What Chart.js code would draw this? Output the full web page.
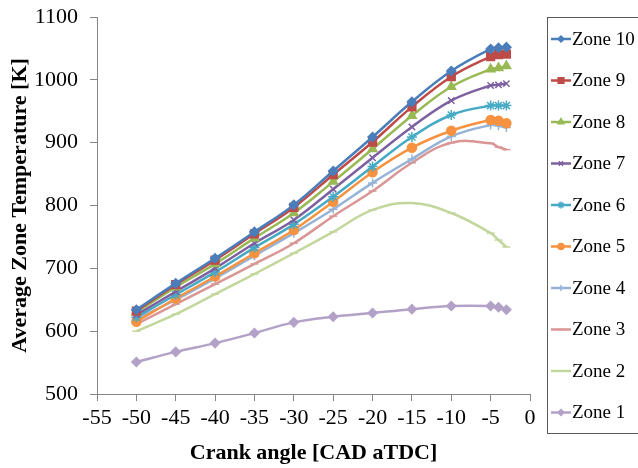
<!DOCTYPE html>
<html>
<head>
<meta charset="utf-8">
<script src="https://cdn.jsdelivr.net/npm/chart.js@4/dist/chart.umd.min.js"></script>
<style>
  html, body { margin: 0; padding: 0; background: #fff; overflow: hidden; }
  #wrap { width: 638px; height: 468px; position: relative; }
</style>
</head>
<body>
<div id="wrap"><canvas id="zoneChart" width="638" height="468"></canvas></div>
<script>
// Crank angles (CAD aTDC)
const angles = [-50, -45, -40, -35, -30, -25, -20, -15, -10, -5, -4, -3];

// Average zone temperatures [K]
const zone10 = [634, 676, 716, 758, 801, 855, 909, 965, 1014, 1049, 1051, 1052];
const zone9 = [632, 674, 713, 755, 797, 849, 901, 957, 1005, 1037, 1040, 1041];
const zone8 = [630, 670, 707, 748, 788, 838, 890, 943, 989, 1017, 1019, 1022];
const zone7 = [626, 663, 700, 740, 777, 826, 876, 925, 967, 991, 992, 994];
const zone6 = [622, 658, 694, 733, 770, 814, 862, 909, 944, 959, 959, 959];
const zone5 = [615, 652, 687, 724, 761, 806, 853, 892, 919, 936, 935, 931];
const zone4 = [619, 650, 684, 720, 756, 794, 836, 874, 910, 928, 927, 924];
const zone3 = [611, 643, 675, 707, 740, 783, 823, 868, 900, 899, 893, 889];
const zone2 = [600, 627, 659, 691, 724, 758, 793, 804, 788, 756, 745, 734];
const zone1 = [551, 567, 581, 597, 614, 623, 629, 635, 640, 640, 638, 634];

const zoneNames = ["Zone 10", "Zone 9", "Zone 8", "Zone 7", "Zone 6", "Zone 5", "Zone 4", "Zone 3", "Zone 2", "Zone 1"];
const zoneValues = [zone10, zone9, zone8, zone7, zone6, zone5, zone4, zone3, zone2, zone1];

// axis ticks
const xMin = -55, xMax = 0, xStep = 5;
const yMin = 500, yMax = 1100, yStep = 100;

// line colour, marker style, marker radius for each zone (same order as zoneNames)
const styles = [
    { color: "#4A7EBB", point: "rectRot", r: 4.5 },
    { color: "#BE4B48", point: "rect", r: 5.5 },
    { color: "#98B954", point: "triangle", r: 5 },
    { color: "#7D60A0", point: "crossRot", r: 4.5 },
    { color: "#46AAC5", point: "star", r: 5 },
    { color: "#F69240", point: "circle", r: 4.5 },
    { color: "#95B3D7", point: "cross", r: 4.5 },
    { color: "#D99694", point: "line", r: 4 },
    { color: "#C3D69B", point: "line", r: 4 },
    { color: "#B3A2C7", point: "rectRot", r: 4.5 }
];

const serif = "'Liberation Serif', 'Times New Roman', serif";
const axisGray = "#868686";

function makeDataset(name, values, st) {
    return {
        label: name,
        data: angles.map((a, i) => ({ x: a, y: values[i] })),
        borderColor: st.color,
        backgroundColor: st.color,
        borderWidth: 2.5,
        tension: 0.4,
        pointStyle: st.point,
        pointRadius: st.r,
        pointBorderWidth: 1.5,
        pointBackgroundColor: st.color,
        pointBorderColor: st.color,
        fill: false
    };
}

// draws the boxed legend on the right, line + marker + text
const zoneLegend = {
    id: "zoneLegend",
    afterDraw(chart) {
        const ctx = chart.ctx;
        ctx.save();
        ctx.strokeStyle = "#595959";
        ctx.lineWidth = 1;
        ctx.strokeRect(547.5, 17.5, 100, 416);
        chart.data.datasets.forEach((ds, i) => {
            const y = 39 + i * 41.5;
            ctx.strokeStyle = ds.borderColor;
            ctx.lineWidth = 2.5;
            ctx.beginPath();
            ctx.moveTo(551, y);
            ctx.lineTo(571, y);
            ctx.stroke();
            ctx.fillStyle = ds.borderColor;
            ctx.lineWidth = 1.5;
            if (Chart.helpers && Chart.helpers.drawPoint) {
                Chart.helpers.drawPoint(ctx, {
                    pointStyle: ds.pointStyle,
                    radius: Math.max(ds.pointRadius - 1.5, 3),
                    rotation: 0,
                    borderWidth: 1.5
                }, 561, y);
            }
            ctx.fillStyle = "#000";
            ctx.font = "19px " + serif;
            ctx.textBaseline = "middle";
            ctx.textAlign = "left";
            ctx.fillText(ds.label, 572, y + 1);
        });
        ctx.restore();
    }
};

const whiteBg = {
    id: "whiteBg",
    beforeDraw(chart) {
        const ctx = chart.ctx;
        ctx.save();
        ctx.fillStyle = "#fff";
        ctx.fillRect(0, 0, chart.width, chart.height);
        ctx.restore();
    }
};

document.addEventListener("DOMContentLoaded", () => {
    const ctx = document.getElementById("zoneChart").getContext("2d");
    new Chart(ctx, {
        type: "line",
        data: {
            datasets: zoneNames.map((n, i) => makeDataset(n, zoneValues[i], styles[i]))
        },
        options: {
            responsive: false,
            animation: false,
            layout: { padding: { left: 0, right: 108, top: 17, bottom: 0 } },
            plugins: {
                legend: { display: false },
                tooltip: { enabled: false }
            },
            scales: {
                x: {
                    type: "linear",
                    min: xMin,
                    max: xMax,
                    afterFit: s => { s.height = 74; s.paddingLeft = 0; s.paddingRight = 0; },
                    ticks: {
                        stepSize: xStep,
                        color: "#000",
                        font: { family: serif, size: 22 },
                        padding: 4,
                        callback: v => String(v)
                    },
                    grid: { drawOnChartArea: false, tickLength: 7, color: axisGray },
                    border: { color: axisGray, width: 1 },
                    title: {
                        display: true,
                        text: "Crank angle [CAD aTDC]",
                        color: "#000",
                        font: { family: serif, size: 22, weight: "bold" },
                        padding: { top: 0, bottom: 1 }
                    }
                },
                y: {
                    min: yMin,
                    max: yMax,
                    afterFit: s => { s.width = 97; s.paddingTop = 0; s.paddingBottom = 0; },
                    ticks: {
                        stepSize: yStep,
                        color: "#000",
                        font: { family: serif, size: 22 },
                        padding: 12,
                        callback: v => String(v)
                    },
                    grid: { drawOnChartArea: false, tickLength: 7, color: axisGray },
                    border: { color: axisGray, width: 1 },
                    title: {
                        display: true,
                        text: "Average Zone Temperature [K]",
                        color: "#000",
                        font: { family: serif, size: 22, weight: "bold" },
                        padding: { top: 7, bottom: 0 }
                    }
                }
            }
        },
        plugins: [whiteBg, zoneLegend]
    });
});
</script>
</body>
</html>
